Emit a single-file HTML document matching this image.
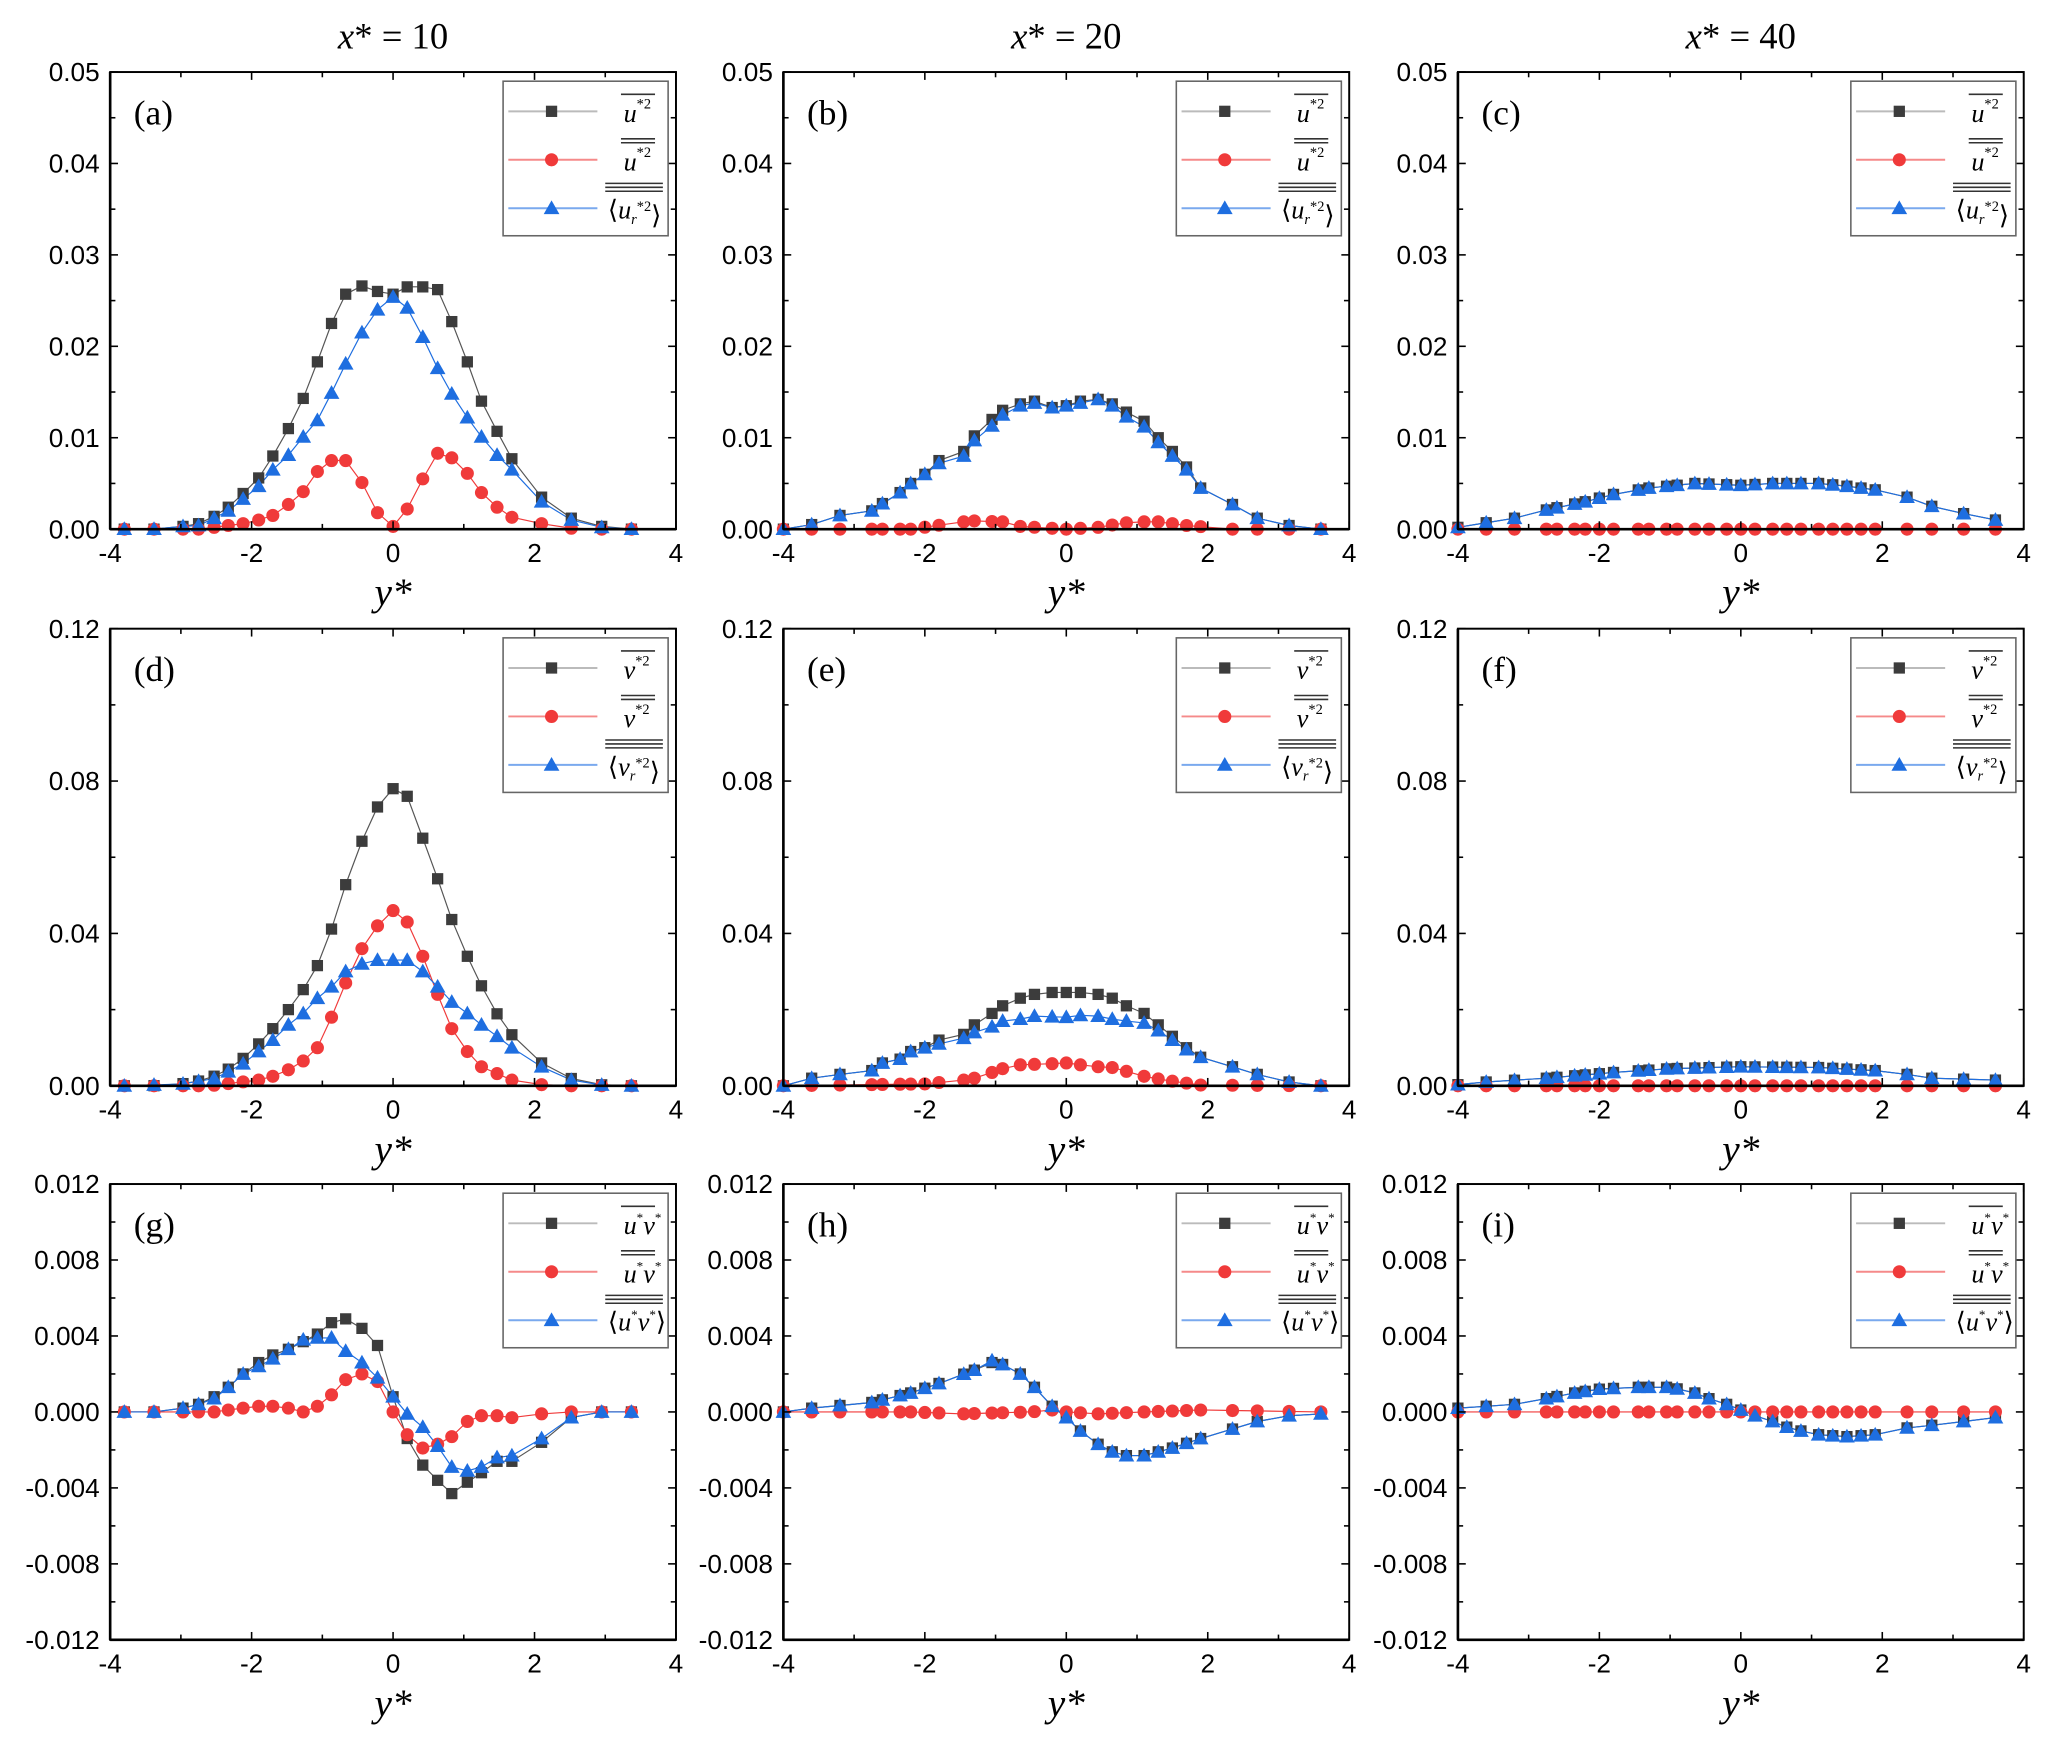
<!DOCTYPE html>
<html><head><meta charset="utf-8">
<style>
html,body{margin:0;padding:0;background:#fff;}
svg{display:block;}
text{font-family:"Liberation Sans",sans-serif;}
</style></head>
<body>
<svg id="c" width="2054" height="1742" viewBox="0 0 1568 1330" xmlns="http://www.w3.org/2000/svg"></svg>
<script>
var svg=document.getElementById('c');var h='';
var SER='style="font-family:\'Liberation Serif\',serif"';
var colL=[84,598,1113],W=432;
var rows=[{t:55,b:404,min:0,max:0.05,maj:0.01,min2:0.005,lab:['0.00','0.01','0.02','0.03','0.04','0.05']},
{t:480,b:829,min:0,max:0.12,maj:0.04,min2:0.02,lab:['0.00','0.04','0.08','0.12']},
{t:904,b:1252,min:-0.012,max:0.012,maj:0.004,min2:0.002,lab:['-0.012','-0.008','-0.004','0.000','0.004','0.008','0.012']}];
function interp(k,x){if(x<=k[0][0])return k[0][1];for(var i=1;i<k.length;i++){if(x<=k[i][0]){var a=k[i-1],b=k[i];return a[1]+(b[1]-a[1])*(x-a[0])/(b[0]-a[0]);}}return k[k.length-1][1];}
var G1=[-3.8,-3.38,-2.97,-2.75,-2.53,-2.33,-2.12,-1.9,-1.7,-1.48,-1.27,-1.07,-0.87,-0.67,-0.44,-0.22,0,0.2,0.42,0.63,0.83,1.05,1.25,1.47,1.68,2.1,2.52,2.95,3.37];
var G2=[-4,-3.6,-3.2,-2.75,-2.6,-2.35,-2.2,-2,-1.8,-1.45,-1.3,-1.05,-0.9,-0.65,-0.45,-0.2,0,0.2,0.45,0.65,0.85,1.1,1.3,1.5,1.7,1.9,2.35,2.7,3.15,3.6];
function S(g,vals){return g.map(function(x,i){return [x,vals[i]];});}
function K(g,k){return g.map(function(x){return [x,interp(k,x)];});}
var data={
a:[S(G1,[0,0,0.0003,0.0006,0.0014,0.0024,0.0039,0.0056,0.008,0.011,0.0143,0.0183,0.0225,0.0257,0.0266,0.026,0.0257,0.0265,0.0265,0.0262,0.0227,0.0183,0.014,0.0107,0.0077,0.0035,0.0012,0.0003,0]),
 S(G1,[0,0,0,0,0.0002,0.0004,0.0006,0.001,0.0015,0.0027,0.0041,0.0063,0.0075,0.0075,0.0051,0.0018,0.0003,0.0022,0.0055,0.0083,0.0078,0.0061,0.004,0.0024,0.0013,0.0006,0.0001,0,0]),
 S(G1,[0,0,0.0003,0.0004,0.0012,0.002,0.0033,0.0047,0.0065,0.0081,0.0101,0.0119,0.0149,0.0181,0.0215,0.024,0.0254,0.0242,0.021,0.0176,0.0148,0.0122,0.0101,0.0081,0.0065,0.003,0.001,0.0002,0])],
b:[K(G2,[[-4,0],[-3.6,0.0005],[-3.2,0.0015],[-2.75,0.002],[-2.6,0.0028],[-2.35,0.004],[-2.2,0.005],[-2,0.006],[-1.8,0.0075],[-1.45,0.0085],[-1.3,0.0102],[-1.05,0.012],[-0.9,0.013],[-0.65,0.0137],[-0.45,0.014],[-0.2,0.0133],[0,0.0135],[0.2,0.014],[0.45,0.0142],[0.65,0.0137],[0.85,0.0128],[1.1,0.0118],[1.3,0.01],[1.5,0.0085],[1.7,0.0068],[1.9,0.0045],[2.35,0.0027],[2.7,0.0012],[3.15,0.0004],[3.6,0]]),
 K(G2,[[-4,0],[-2.2,0],[-1.45,0.0008],[-1.3,0.0009],[-0.9,0.0008],[-0.65,0.0003],[0,0],[0.45,0.0002],[0.85,0.0007],[1.1,0.0008],[1.3,0.0008],[1.7,0.0004],[2.35,0],[3.6,0]]),
 K(G2,[[-4,0],[-3.6,0.0005],[-3.2,0.0015],[-2.75,0.002],[-2.6,0.0028],[-2.35,0.004],[-2.2,0.005],[-2,0.006],[-1.8,0.0072],[-1.45,0.008],[-1.3,0.0097],[-1.05,0.0113],[-0.9,0.0125],[-0.65,0.0135],[-0.45,0.0138],[-0.2,0.0133],[0,0.0135],[0.2,0.0138],[0.45,0.0142],[0.65,0.0135],[0.85,0.0123],[1.1,0.0112],[1.3,0.0095],[1.5,0.008],[1.7,0.0065],[1.9,0.0045],[2.35,0.0027],[2.7,0.0012],[3.15,0.0004],[3.6,0]])],
c:[K(G2,[[-4,0.0002],[-3.6,0.0007],[-3.2,0.0012],[-2.75,0.0021],[-2.2,0.003],[-1.8,0.0038],[-1.3,0.0045],[-0.65,0.005],[0,0.0048],[0.45,0.005],[1.1,0.005],[1.5,0.0047],[1.9,0.0043],[2.35,0.0035],[2.7,0.0025],[3.15,0.0017],[3.6,0.001]]),
 K(G2,[[-4,0],[3.6,0]]),
 K(G2,[[-4,0.0002],[-3.6,0.0007],[-3.2,0.0012],[-2.75,0.0021],[-2.2,0.003],[-1.8,0.0038],[-1.3,0.0045],[-0.65,0.005],[0,0.0048],[0.45,0.005],[1.1,0.005],[1.5,0.0047],[1.9,0.0043],[2.35,0.0035],[2.7,0.0025],[3.15,0.0017],[3.6,0.001]])],
d:[K(G1,[[-3.8,0],[-3.4,0],[-3,0.0005],[-2.8,0.001],[-2.6,0.002],[-2.4,0.0035],[-2.2,0.006],[-2,0.009],[-1.8,0.013],[-1.6,0.017],[-1.4,0.022],[-1.2,0.027],[-1,0.034],[-0.8,0.045],[-0.6,0.057],[-0.4,0.066],[-0.2,0.074],[0,0.078],[0.2,0.076],[0.4,0.066],[0.6,0.056],[0.8,0.045],[1,0.036],[1.2,0.028],[1.4,0.021],[1.6,0.015],[2,0.007],[2.5,0.002],[2.9,0.0003],[3.3,0]]),
 K(G1,[[-3.8,0],[-2.6,0],[-1.9,0.0015],[-1.6,0.003],[-1.3,0.006],[-1.07,0.01],[-0.87,0.018],[-0.67,0.027],[-0.44,0.036],[-0.22,0.042],[0,0.046],[0.2,0.043],[0.42,0.034],[0.63,0.024],[0.83,0.015],[1.05,0.009],[1.25,0.005],[1.68,0.0015],[2.1,0.0003],[2.5,0],[3.4,0]]),
 K(G1,[[-3.8,0],[-3,0.0004],[-2.5,0.002],[-2.1,0.006],[-1.7,0.012],[-1.48,0.016],[-1.27,0.019],[-1.07,0.023],[-0.87,0.026],[-0.67,0.030],[-0.44,0.032],[-0.22,0.033],[0,0.033],[0.2,0.033],[0.42,0.03],[0.63,0.026],[0.83,0.022],[1.05,0.019],[1.25,0.016],[1.47,0.013],[1.68,0.01],[2.1,0.005],[2.52,0.0015],[2.95,0.0002],[3.37,0]])],
e:[K(G2,[[-4,0],[-3.6,0.002],[-3.2,0.003],[-2.75,0.004],[-2.6,0.006],[-2.35,0.007],[-2.2,0.009],[-2,0.01],[-1.8,0.012],[-1.45,0.0135],[-1.3,0.016],[-1.05,0.019],[-0.9,0.021],[-0.65,0.023],[-0.45,0.024],[-0.2,0.0245],[0.2,0.0245],[0.45,0.024],[0.65,0.023],[0.85,0.021],[1.1,0.019],[1.3,0.016],[1.5,0.013],[1.7,0.01],[1.9,0.0075],[2.35,0.005],[2.7,0.003],[3.15,0.001],[3.6,0]]),
 K(G2,[[-4,0],[-2,0.0005],[-1.45,0.0015],[-1.3,0.002],[-1.05,0.0035],[-0.9,0.0045],[-0.65,0.0055],[-0.2,0.0058],[0,0.006],[0.2,0.0055],[0.45,0.005],[0.65,0.0048],[0.85,0.0038],[1.1,0.0025],[1.3,0.0018],[1.5,0.0012],[1.9,0.0002],[3.6,0]]),
 K(G2,[[-4,0],[-3.6,0.002],[-3.2,0.003],[-2.75,0.004],[-2.6,0.006],[-2.35,0.007],[-2.2,0.009],[-2,0.01],[-1.8,0.011],[-1.45,0.0125],[-1.3,0.014],[-1.05,0.0155],[-0.9,0.017],[-0.65,0.0175],[-0.45,0.0183],[0,0.018],[0.2,0.0185],[0.45,0.0183],[0.65,0.0175],[0.85,0.017],[1.1,0.0165],[1.3,0.0145],[1.5,0.012],[1.7,0.0095],[1.9,0.0075],[2.35,0.005],[2.7,0.003],[3.15,0.001],[3.6,0]])],
f:[K(G2,[[-4,0.0003],[-3.6,0.001],[-2.75,0.002],[-1.8,0.0035],[-1,0.0045],[0,0.005],[1.1,0.0048],[1.9,0.004],[2.35,0.003],[2.7,0.002],[3.6,0.0015]]),
 K(G2,[[-4,0],[3.6,0]]),
 K(G2,[[-4,0.0003],[-3.6,0.001],[-2.75,0.002],[-1.8,0.0035],[-1,0.0045],[0,0.005],[1.1,0.0048],[1.9,0.004],[2.35,0.003],[2.7,0.002],[3.6,0.0015]])],
g:[S(G1,[0,0,0.0002,0.0004,0.0008,0.0013,0.002,0.0026,0.003,0.0033,0.0037,0.0041,0.0047,0.0049,0.0044,0.0035,0.0008,-0.0014,-0.0028,-0.0036,-0.0043,-0.0037,-0.0032,-0.0026,-0.0026,-0.0016,-0.0003,0,0]),
 S(G1,[0,0,0,0,0,0.0001,0.0002,0.0003,0.0003,0.0002,0,0.0003,0.0009,0.0017,0.002,0.0016,0,-0.0012,-0.0019,-0.0017,-0.0013,-0.0005,-0.0002,-0.0002,-0.0003,-0.0001,0,0,0]),
 S(G1,[0,0,0.0002,0.0004,0.0007,0.0013,0.002,0.0024,0.0028,0.0033,0.0038,0.0039,0.0039,0.0032,0.0026,0.0018,0.0008,-0.0001,-0.0008,-0.0018,-0.0029,-0.0031,-0.0029,-0.0024,-0.0023,-0.0014,-0.0003,0,0])],
h:[K(G2,[[-4,0],[-3.6,0.0002],[-2.75,0.0005],[-2.2,0.001],[-1.8,0.0015],[-1.3,0.0022],[-1.05,0.0026],[-0.9,0.0025],[-0.65,0.002],[-0.45,0.0013],[-0.2,0.0003],[0,-0.0003],[0.2,-0.001],[0.45,-0.0017],[0.65,-0.0021],[0.85,-0.0023],[1.1,-0.0023],[1.5,-0.0019],[1.9,-0.0014],[2.35,-0.0009],[2.7,-0.0005],[3.15,-0.0002],[3.6,-0.0001]]),
 K(G2,[[-4,0],[-2.2,0],[-1.45,-0.0001],[-0.5,0],[-0.2,0.0001],[0,0],[0.45,-0.0001],[1.1,0],[1.9,0.0001],[3.6,0]]),
 K(G2,[[-4,0],[-3.6,0.0002],[-2.75,0.0005],[-2.2,0.001],[-1.8,0.0015],[-1.3,0.0022],[-1.05,0.0027],[-0.9,0.0025],[-0.65,0.002],[-0.45,0.0013],[-0.2,0.0003],[0,-0.0003],[0.2,-0.001],[0.45,-0.0017],[0.65,-0.0021],[0.85,-0.0023],[1.1,-0.0023],[1.5,-0.0019],[1.9,-0.0014],[2.35,-0.0009],[2.7,-0.0005],[3.15,-0.0002],[3.6,-0.0001]])],
i:[K(G2,[[-4,0.0002],[-3.6,0.0003],[-3.2,0.0004],[-2.75,0.0007],[-2.35,0.0010],[-2,0.0012],[-1.5,0.0013],[-1,0.0013],[-0.65,0.001],[-0.45,0.0007],[-0.2,0.0004],[0,0.0001],[0.2,-0.0002],[0.45,-0.0005],[0.65,-0.0008],[0.85,-0.001],[1.1,-0.0012],[1.5,-0.0013],[1.9,-0.0012],[2.2,-0.0009],[2.7,-0.0007],[3.15,-0.0005],[3.6,-0.0003]]),
 K(G2,[[-4,0],[3.6,0]]),
 K(G2,[[-4,0.0002],[-3.6,0.0003],[-3.2,0.0004],[-2.75,0.0007],[-2.35,0.0010],[-2,0.0012],[-1.5,0.0013],[-1,0.0013],[-0.65,0.001],[-0.45,0.0007],[-0.2,0.0004],[0,0.0001],[0.2,-0.0002],[0.45,-0.0005],[0.65,-0.0008],[0.85,-0.001],[1.1,-0.0012],[1.5,-0.0013],[1.9,-0.0012],[2.2,-0.0009],[2.7,-0.0007],[3.15,-0.0005],[3.6,-0.0003]])]
};
var letters=[['a','b','c'],['d','e','f'],['g','h','i']];
var cols=['#3c3c3c','#f03a3a','#1e6ee0'],lcols=['#bbbbbb','#f58a8a','#7aa9ee'];
var sym=[['u','*2'],['v','*2'],['uv','']];
function marker(t,x,y){
 if(t==0)return '<rect x="'+(x-4.3)+'" y="'+(y-4.3)+'" width="8.6" height="8.6" fill="'+cols[0]+'"/>';
 if(t==1)return '<circle cx="'+x+'" cy="'+y+'" r="5" fill="'+cols[1]+'"/>';
 return '<path d="M'+x+' '+(y-6)+' L'+(x+6)+' '+(y+4.5)+' L'+(x-6)+' '+(y+4.5)+'Z" fill="'+cols[2]+'"/>';
}
var titles=['10','20','40'];
for(var c=0;c<3;c++){h+='<text '+SER+' x="'+(colL[c]+216)+'" y="37" font-size="28" text-anchor="middle"><tspan font-style="italic">x</tspan>* = '+titles[c]+'</text>';}
for(var r=0;r<3;r++){var R=rows[r];
 for(var c=0;c<3;c++){var L=colL[c],Rt=L+W,T=R.t,B=R.b;
  function px(x){return L+(x+4)/8*W;}
  function py(v){return B-(v-R.min)/(R.max-R.min)*(B-T);}
  var id=letters[r][c];
  var order=[0,1,2];
  order.forEach(function(s){var d=data[id][s];var pts=d.map(function(p){return px(p[0]).toFixed(1)+','+py(p[1]).toFixed(1);}).join(' ');
   h+='<polyline points="'+pts+'" fill="none" stroke="'+(s==0?'#555':cols[s])+'" stroke-width="0.9"/>';});
  order.forEach(function(s){data[id][s].forEach(function(p){h+=marker(s,px(p[0]),py(p[1]));});});
  h+='<rect x="'+L+'" y="'+T+'" width="'+W+'" height="'+(B-T)+'" fill="none" stroke="#000" stroke-width="1.5"/>';
  h+='<line x1="'+L+'" y1="'+B+'" x2="'+Rt+'" y2="'+B+'" stroke="#000" stroke-width="2"/>';
  h+='<line x1="'+L+'" y1="'+T+'" x2="'+L+'" y2="'+B+'" stroke="#000" stroke-width="2"/>';
  for(var x=-4;x<=4;x++){var X=px(x),len=(x%2==0)?6:4;
   h+='<line x1="'+X+'" y1="'+B+'" x2="'+X+'" y2="'+(B-len)+'" stroke="#000" stroke-width="1.2"/>';
   h+='<line x1="'+X+'" y1="'+T+'" x2="'+X+'" y2="'+(T+len)+'" stroke="#000" stroke-width="1.2"/>';
   if(x%2==0)h+='<text x="'+X+'" y="'+(B+25)+'" font-size="20" text-anchor="middle">'+(x<0?'-'+(-x):x)+'</text>';}
  h+='<text '+SER+' x="'+(L+216)+'" y="'+(B+58)+'" font-size="30" text-anchor="middle" font-style="italic">y*</text>';
  var n=Math.round((R.max-R.min)/R.min2);
  for(var k=0;k<=n;k++){var v=R.min+k*R.min2,Y=py(v),maj=(k%2==0),len=maj?6:4;
   h+='<line x1="'+L+'" y1="'+Y+'" x2="'+(L+len)+'" y2="'+Y+'" stroke="#000" stroke-width="1.2"/>';
   h+='<line x1="'+Rt+'" y1="'+Y+'" x2="'+(Rt-len)+'" y2="'+Y+'" stroke="#000" stroke-width="1.2"/>';
   if(maj)h+='<text x="'+(L-8)+'" y="'+(Y+7)+'" font-size="20" text-anchor="end">'+R.lab[k/2]+'</text>';}
  h+='<text '+SER+' x="'+(L+18)+'" y="'+(T+40)+'" font-size="27">('+id+')</text>';
  var lx=Rt-132,ly=T+7,lw=126,lh=118;
  h+='<rect x="'+lx+'" y="'+ly+'" width="'+lw+'" height="'+lh+'" fill="#fff" stroke="#666" stroke-width="1.2"/>';
  for(var s=0;s<3;s++){var yy=ly+23+s*37;
   h+='<line x1="'+(lx+4)+'" y1="'+yy+'" x2="'+(lx+72)+'" y2="'+yy+'" stroke="'+lcols[s]+'" stroke-width="1.5"/>';
   h+=marker(s,lx+37,yy);
   var base=sym[r][0],tx=lx+92,ty=yy+8;
   var lab;
   if(r<2){lab=(s==2?'&#x27E8;':'')+'<tspan font-style="italic">'+base+(s==2?'<tspan font-size="11" dy="4">r</tspan><tspan dy="-4"></tspan>':'')+'</tspan><tspan font-size="11" dy="-10">*2</tspan>'+(s==2?'<tspan dy="10">&#x27E9;</tspan>':'');}
   else{lab=(s==2?'&#x27E8;':'')+'<tspan font-style="italic">u</tspan><tspan font-size="10" dy="-9">*</tspan><tspan font-style="italic" dy="9">v</tspan><tspan font-size="10" dy="-9">*</tspan>'+(s==2?'<tspan dy="9">&#x27E9;</tspan>':'');}
   h+='<text '+SER+' x="'+(s==2?tx-12:tx)+'" y="'+ty+'" font-size="20">'+lab+'</text>';
   var ox1=(s==2?tx-14:tx-2),ox2=(s==2?tx+30:tx+24),oy=yy-13;
   h+='<line x1="'+ox1+'" y1="'+oy+'" x2="'+ox2+'" y2="'+oy+'" stroke="#333" stroke-width="1.2"/>';
   if(s>0)h+='<line x1="'+ox1+'" y1="'+(oy-3)+'" x2="'+ox2+'" y2="'+(oy-3)+'" stroke="#333" stroke-width="1.2"/>';
   if(s==2)h+='<line x1="'+ox1+'" y1="'+(oy-6)+'" x2="'+ox2+'" y2="'+(oy-6)+'" stroke="#333" stroke-width="1.2"/>';
  }
 }}
svg.innerHTML=h;
</script>
</body></html>
